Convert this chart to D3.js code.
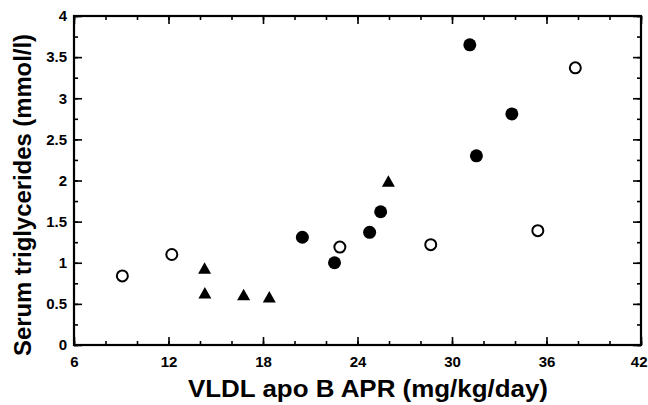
<!DOCTYPE html>
<html>
<head>
<meta charset="utf-8">
<script src="https://cdn.jsdelivr.net/npm/d3@7"></script>
<style>
  html, body { margin: 0; padding: 0; background: #fff; }
  svg { display: block; }
  text { font-family: "Liberation Sans", Arial, sans-serif; font-weight: bold; fill: #000; }
</style>
</head>
<body>
<svg id="chart" width="648" height="405"></svg>
<script>
// Data
const openX = [9.07, 12.21, 22.88, 28.65, 35.45, 37.83];
const openY = [0.84, 1.10, 1.19, 1.22, 1.39, 3.37];
const filledX = [20.5, 22.54, 24.77, 25.47, 31.13, 31.55, 33.8];
const filledY = [1.31, 1.00, 1.37, 1.62, 3.65, 2.30, 2.81];
const triX = [14.29, 14.31, 16.77, 18.4, 25.96];
const triY = [0.92, 0.62, 0.60, 0.57, 1.98];
const xTicks = [6, 12, 18, 24, 30, 36, 42];
const yTicks = [0, 0.5, 1, 1.5, 2, 2.5, 3, 3.5, 4];
const xMinor = d3.range(6, 42.001, 2);
const yMinor = d3.range(0, 4.001, 0.25);
const xTitle = "VLDL apo B APR (mg/kg/day)";
const yTitle = "Serum triglycerides (mmol/l)";

const L = 74, R = 641, T = 16, B = 345;
const svg = d3.select("#chart");
const x = d3.scaleLinear().domain([6, 42]).range([L, R]);
const y = d3.scaleLinear().domain([0, 4]).range([B, T]);

const g = svg.append("g");

function styleAxis(sel) {
  sel.select(".domain").remove();
  sel.selectAll(".tick line").attr("stroke", "#000").attr("stroke-width", 1.6);
}

// minor ticks (inward) on all sides
g.append("g").attr("transform", `translate(0,${B})`)
  .call(d3.axisTop(x).tickValues(xMinor).tickSize(4).tickFormat(""))
  .call(styleAxis);
g.append("g").attr("transform", `translate(0,${T})`)
  .call(d3.axisBottom(x).tickValues(xMinor).tickSize(4).tickFormat(""))
  .call(styleAxis);
g.append("g").attr("transform", `translate(${L},0)`)
  .call(d3.axisRight(y).tickValues(yMinor).tickSize(4).tickFormat(""))
  .call(styleAxis);
g.append("g").attr("transform", `translate(${R},0)`)
  .call(d3.axisLeft(y).tickValues(yMinor).tickSize(4).tickFormat(""))
  .call(styleAxis);

// major ticks
g.append("g").attr("transform", `translate(0,${B})`)
  .call(d3.axisTop(x).tickValues(xTicks).tickSize(8).tickFormat(""))
  .call(styleAxis);
g.append("g").attr("transform", `translate(0,${T})`)
  .call(d3.axisBottom(x).tickValues(xTicks).tickSize(8).tickFormat(""))
  .call(styleAxis);
g.append("g").attr("transform", `translate(${L},0)`)
  .call(d3.axisRight(y).tickValues(yTicks).tickSize(8).tickFormat(""))
  .call(styleAxis);
g.append("g").attr("transform", `translate(${R},0)`)
  .call(d3.axisLeft(y).tickValues(yTicks).tickSize(8).tickFormat(""))
  .call(styleAxis);

// tick labels
const xl = g.append("g").attr("transform", `translate(0,${B})`)
  .call(d3.axisBottom(x).tickValues(xTicks).tickSize(0).tickPadding(11).tickFormat(d3.format("d")));
xl.select(".domain").remove();
xl.selectAll("text").style("font-size", "15px").style("font-family", "'Liberation Sans', Arial, sans-serif").style("font-weight", "bold").attr("fill", "#000");
xl.selectAll(".tick").filter(d => d === 42).select("text")
  .attr("text-anchor", "end").attr("x", 647 - R);

const yl = g.append("g").attr("transform", `translate(${L},0)`)
  .call(d3.axisLeft(y).tickValues(yTicks).tickSize(0).tickPadding(7).tickFormat(d => String(d)));
yl.select(".domain").remove();
yl.selectAll("text").style("font-size", "15px").style("font-family", "'Liberation Sans', Arial, sans-serif").style("font-weight", "bold").attr("fill", "#000");

// frame
g.append("rect").attr("x", L).attr("y", T).attr("width", R - L).attr("height", B - T)
  .attr("fill", "none").attr("stroke", "#000").attr("stroke-width", 2.2);

// points
const pts = g.append("g");
pts.selectAll("circle.open").data(openX.map((v, i) => [v, openY[i]])).enter()
  .append("circle").attr("class", "open")
  .attr("cx", d => x(d[0])).attr("cy", d => y(d[1])).attr("r", 5.5)
  .attr("fill", "#fff").attr("stroke", "#000").attr("stroke-width", 2);
pts.selectAll("circle.filled").data(filledX.map((v, i) => [v, filledY[i]])).enter()
  .append("circle").attr("class", "filled")
  .attr("cx", d => x(d[0])).attr("cy", d => y(d[1])).attr("r", 6.5)
  .attr("fill", "#000");
const tri = "M0,-7L6.5,4.5L-6.5,4.5Z";
pts.selectAll("path.tri").data(triX.map((v, i) => [v, triY[i]])).enter()
  .append("path").attr("class", "tri")
  .attr("d", tri)
  .attr("transform", d => `translate(${x(d[0])},${y(d[1])})`)
  .attr("fill", "#000");

// titles
svg.append("text").attr("x", 368).attr("y", 397).attr("text-anchor", "middle")
  .attr("textLength", 360).attr("lengthAdjust", "spacingAndGlyphs")
  .style("font-size", "24px").text(xTitle);
svg.append("text").attr("transform", `translate(31,195) rotate(-90)`)
  .attr("text-anchor", "middle")
  .attr("textLength", 322).attr("lengthAdjust", "spacingAndGlyphs")
  .style("font-size", "24px").text(yTitle);
</script>
</body>
</html>
